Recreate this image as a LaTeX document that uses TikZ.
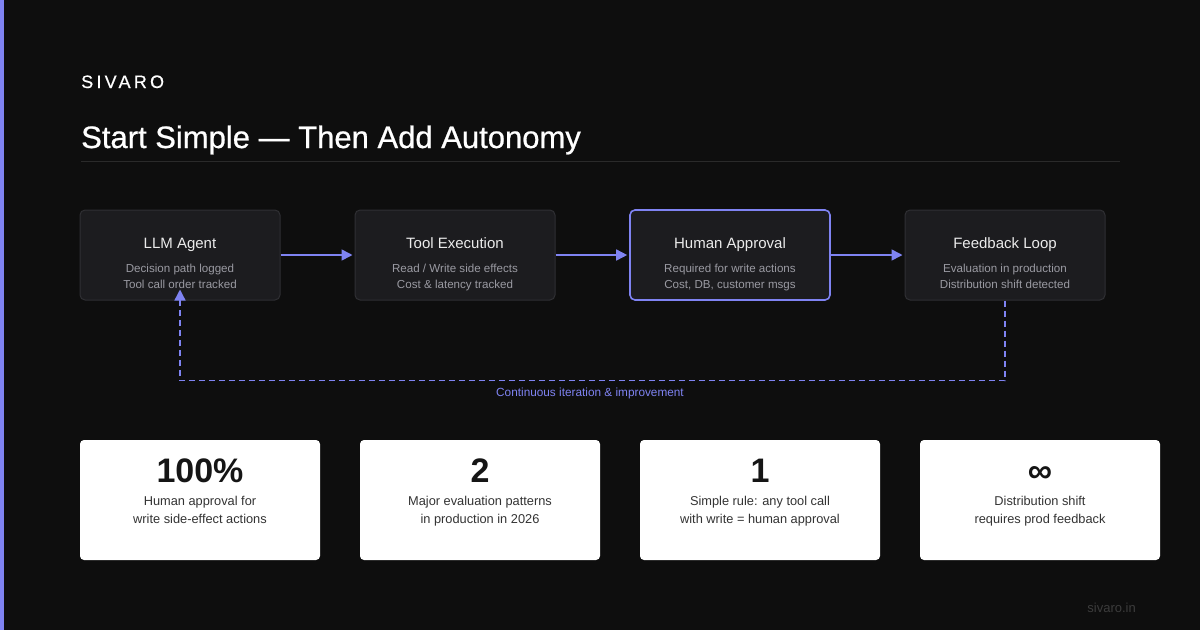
\documentclass[tikz,border=0pt]{standalone}
\usepackage{fontspec}
\setmainfont{Liberation Sans}
\newfontfamily\brandfont[LetterSpace=18, FakeBold=0.6]{Liberation Sans}
\newfontfamily\headfont[FakeBold=0.7]{Liberation Sans}
\usetikzlibrary{arrows.meta, positioning}
\definecolor{bgdark}{HTML}{0E0E0E}
\definecolor{accent}{HTML}{7F83F2}
\definecolor{cardfill}{HTML}{1C1C1F}
\definecolor{cardline}{HTML}{2F2F33}
\definecolor{subgrey}{HTML}{9A9AA2}
\definecolor{rulegrey}{HTML}{2A2A2A}
\definecolor{statink}{HTML}{151515}
\definecolor{statsub}{HTML}{333333}
\definecolor{footgrey}{HTML}{3C3C3C}

\begin{document}
\begin{tikzpicture}[x=1pt, y=-1pt,
    stage/.style={
      draw=cardline,
      fill=cardfill,
      rounded corners=5pt,
      line width=1pt,
      minimum width=200pt,
      minimum height=90pt,
      inner sep=0pt
    },
    stagetitle/.style={text=white!92!black, font=\fontsize{15}{18}\selectfont, anchor=base},
    stagenote/.style={text=subgrey, font=\fontsize{11.6}{16}\selectfont, align=center, anchor=base},
    flow/.style={draw=accent, line width=1.6pt, shorten >=2pt, -{Triangle[length=11pt,width=11pt]}},
    loopback/.style={draw=accent, line width=1.4pt, dash pattern=on 6pt off 4pt, shorten >=-11pt, -{Triangle[length=11pt,width=11pt]}},
    stat/.style={
      fill=white,
      rounded corners=4pt,
      minimum width=240pt,
      minimum height=120pt,
      inner sep=0pt
    },
    statnum/.style={text=statink, font=\fontsize{34}{40}\selectfont\bfseries, anchor=base},
    statnote/.style={text=statsub, font=\fontsize{12.8}{17.5}\selectfont, align=center, anchor=base}
  ]
    \path[use as bounding box, fill=bgdark] (0,0) rectangle (1200,630);
    \fill[accent] (0,0) rectangle (4,630);

    % header
    \node[anchor=base west, inner sep=0pt, text=white, font=\brandfont\fontsize{18}{20}\selectfont] (brand) at (81,88) {SIVARO};
    \node[anchor=base west, inner sep=0pt, text=white, font=\headfont\fontsize{31}{35}\selectfont] (title) at (81,148) {Start Simple — Then Add Autonomy};
    \draw[rulegrey, line width=1pt] (81,161) -- (1120,161);

    % pipeline (note nodes sit on the baseline of their last line)
    \node[stage] (llm) at (180,255) {};
    \node[stage] (tool) at (455,255) {};
    \node[stage, draw=accent, line width=1.6pt] (human) at (730,255) {};
    \node[stage] (feedback) at (1005,255) {};

    \node[stagetitle] at (180,248) {LLM Agent};
    \node[stagenote] at (180,288) {Decision path logged\\Tool call order tracked};
    \node[stagetitle] at (455,248) {Tool Execution};
    \node[stagenote] at (455,288) {Read / Write side effects\\Cost \& latency tracked};
    \node[stagetitle] at (730,248) {Human Approval};
    \node[stagenote] at (730,288) {Required for write actions\\Cost, DB, customer msgs};
    \node[stagetitle] at (1005,248) {Feedback Loop};
    \node[stagenote] at (1005,288) {Evaluation in production\\Distribution shift detected};

    \draw[flow] (llm.east) -- (tool.west);
    \draw[flow] (tool.east) -- (human.west);
    \draw[flow] (human.east) -- (feedback.west);
    \draw[loopback] (feedback.south) -- ++(0,80) -| (llm.south);
    \node[text=accent, font=\fontsize{11.8}{13}\selectfont, anchor=base] (looplabel) at (590,396) {Continuous iteration \& improvement};

    % stats
    \node[stat] (statA) at (200,500) {};
    \node[stat] (statB) at (480,500) {};
    \node[stat] (statC) at (760,500) {};
    \node[stat] (statD) at (1040,500) {};

    \node[statnum] at (200,482) {100\%};
    \node[statnote] at (200,523) {Human approval for\\write side-effect actions};
    \node[statnum] at (480,482) {2};
    \node[statnote] at (480,523) {Major evaluation patterns\\in production in 2026};
    \node[statnum] at (760,482) {1};
    \node[statnote] at (760,523) {Simple rule: any tool call\\with write = human approval};
    \node[statnum] at (1040,482) {∞};
    \node[statnote] at (1040,523) {Distribution shift\\requires prod feedback};

    \node[text=footgrey, font=\fontsize{13}{15}\selectfont, anchor=base east, inner sep=0pt] (site) at (1136,612) {sivaro.in};
  \end{tikzpicture}
\end{document}
